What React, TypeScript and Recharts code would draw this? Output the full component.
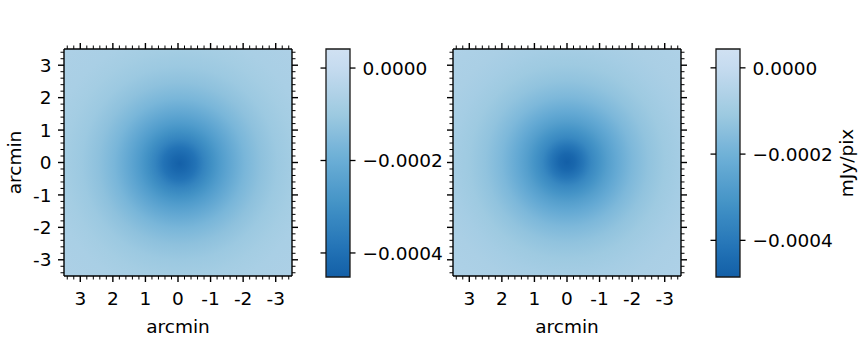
import React from 'react';
import { ScatterChart, XAxis, YAxis, ReferenceArea } from 'recharts';

// ---------- data ----------
const arcminTicks = [3, 2, 1, 0, -1, -2, -3];
const arcminTickLabels = ['3', '2', '1', '0', '-1', '-2', '-3'];
const arcminDomain: [number, number] = [-3.5, 3.5];
const minorTickCount = 35; // every 0.2 arcmin from -3.4 to 3.4

// radial profile of each map (radius in arcmin -> mJy/pix)
const profileRadius = [0, 0.25, 0.5, 0.75, 1, 1.25, 1.5, 2, 2.5, 3, 3.5, 4, 5];
const leftProfile = [-0.000448, -0.000425, -0.00039, -0.00034, -0.0003, -0.000262, -0.00023, -0.00017, -0.00013, -0.000102, -0.000083, -0.00007, -0.00006];
const rightProfile = [-0.000485, -0.00046, -0.00041, -0.00035, -0.00031, -0.00027, -0.000235, -0.000174, -0.000133, -0.000105, -0.000086, -0.000073, -0.000062];
const leftCenter = [-0.05, -0.03];
const rightCenter = [0.0, 0.02];

const leftColorbarDomain: [number, number] = [-0.000452, 0.0000412];
const rightColorbarDomain: [number, number] = [-0.000485, 0.0000437];
const colorbarTicks = [0, -0.0002, -0.0004];
const colorbarTickLabels = ['0.0000', '\u22120.0002', '\u22120.0004'];

// ---------- colormap ----------
const BLUES = ['#f7fbff', '#deebf7', '#c6dbef', '#9ecae1', '#6baed6', '#4292c6', '#2171b5', '#08519c', '#08306b'];
const CMAP_LO = 0.2;
const CMAP_HI = 0.82;

function hexToRgb(h: string) {
  const n = parseInt(h.slice(1), 16);
  return [(n >> 16) & 255, (n >> 8) & 255, n & 255];
}
function blues(t: number) {
  const c = Math.max(0, Math.min(1, t)) * (BLUES.length - 1);
  const i = Math.min(BLUES.length - 2, Math.floor(c));
  const f = c - i;
  const a = hexToRgb(BLUES[i]);
  const b = hexToRgb(BLUES[i + 1]);
  const m = a.map((v, k) => Math.round(v + (b[k] - v) * f));
  return `rgb(${m[0]},${m[1]},${m[2]})`;
}
function valueToColor(v: number, domain: [number, number]) {
  const frac = (domain[1] - v) / (domain[1] - domain[0]);
  return blues(CMAP_LO + frac * (CMAP_HI - CMAP_LO));
}

const allArcTicks = Array.from({ length: minorTickCount }, (_, i) => Math.round((-3.4 + i * 0.2) * 10) / 10);

const FONT = '"DejaVu Sans", Verdana, sans-serif';
const FS = 18.5;
const MAJOR = 6;
const MINOR = 3.5;

const arcTick = (side: string, withLabels: boolean) => (props: any) => {
  const { x, y, payload } = props;
  const v = Number(payload.value);
  const idx = arcminTicks.findIndex((t) => Math.abs(t - v) < 1e-6);
  const major = idx >= 0;
  const len = major ? MAJOR : MINOR;
  const sw = major ? 1.4 : 1.0;
  let x2 = x;
  let y2 = y;
  if (side === 'bottom') y2 = y + len;
  else if (side === 'top') y2 = y - len;
  else if (side === 'left') x2 = x - len;
  else x2 = x + len;
  return (
    <g>
      <line x1={x} y1={y} x2={x2} y2={y2} stroke="#000" strokeWidth={sw} />
      {withLabels && major && side === 'bottom' && (
        <text x={x} y={y + 29} textAnchor="middle" fontFamily={FONT} fontSize={FS} fill="#000">
          {arcminTickLabels[idx]}
        </text>
      )}
      {withLabels && major && side === 'left' && (
        <text x={x - 12.5} y={y + 6.7} textAnchor="end" fontFamily={FONT} fontSize={FS} fill="#000">
          {arcminTickLabels[idx]}
        </text>
      )}
    </g>
  );
};

const cbTick = (side: string, withLabels: boolean) => (props: any) => {
  const { x, y, payload } = props;
  const v = Number(payload.value);
  const idx = colorbarTicks.findIndex((t) => Math.abs(t - v) < 1e-12);
  const len = 5.5;
  const x2 = side === 'left' ? x - len : x + len;
  return (
    <g>
      <line x1={x} y1={y} x2={x2} y2={y} stroke="#000" strokeWidth={1.3} />
      {withLabels && idx >= 0 && (
        <text x={x + 12.5} y={y + 6.7} textAnchor="start" fontFamily={FONT} fontSize={FS} fill="#000">
          {colorbarTickLabels[idx]}
        </text>
      )}
    </g>
  );
};

const frame = { stroke: '#000', strokeWidth: 1.4 };

function HeatPanel({ left, gradId, showYLabels }: { left: number; gradId: string; showYLabels: boolean }) {
  return (
    <div style={{ position: 'absolute', left, top: 0 }}>
      <ScatterChart width={300} height={347} margin={{ top: 40, right: 0, bottom: 41, left: 0 }}>
        <ReferenceArea
          xAxisId="b"
          yAxisId="l"
          x1={arcminDomain[0]}
          x2={arcminDomain[1]}
          y1={arcminDomain[0]}
          y2={arcminDomain[1]}
          fill={`url(#${gradId})`}
          fillOpacity={1}
          stroke="none"
        />
        <XAxis
          xAxisId="b"
          type="number"
          dataKey="x"
          orientation="bottom"
          height={30}
          domain={arcminDomain}
          allowDataOverflow
          reversed
          ticks={allArcTicks}
          interval={0}
          tickLine={false}
          tickSize={0}
          tickMargin={0}
          axisLine={frame}
          tick={arcTick('bottom', true)}
          label={{
            content: (p: any) => {
              const vb = p.viewBox;
              return (
                <text x={vb.x + vb.width / 2} y={vb.y + 57} textAnchor="middle" fontFamily={FONT} fontSize={FS} fill="#000">
                  arcmin
                </text>
              );
            },
          }}
        />
        <XAxis
          xAxisId="t"
          type="number"
          dataKey="x"
          orientation="top"
          height={9}
          domain={arcminDomain}
          allowDataOverflow
          reversed
          ticks={allArcTicks}
          interval={0}
          tickLine={false}
          tickSize={0}
          tickMargin={0}
          axisLine={frame}
          tick={arcTick('top', false)}
        />
        <YAxis
          yAxisId="l"
          type="number"
          dataKey="y"
          orientation="left"
          width={64}
          domain={arcminDomain}
          allowDataOverflow
          ticks={allArcTicks}
          interval={0}
          tickLine={false}
          tickSize={0}
          tickMargin={0}
          axisLine={frame}
          tick={arcTick('left', showYLabels)}
          label={
            showYLabels
              ? {
                  content: (p: any) => {
                    const vb = p.viewBox;
                    const cx = vb.x + 21;
                    const cy = vb.y + vb.height / 2;
                    return (
                      <text x={cx} y={cy} transform={`rotate(-90, ${cx}, ${cy})`} textAnchor="middle" fontFamily={FONT} fontSize={FS} fill="#000">
                        arcmin
                      </text>
                    );
                  },
                }
              : undefined
          }
        />
        <YAxis
          yAxisId="r"
          type="number"
          dataKey="y"
          orientation="right"
          width={8}
          domain={arcminDomain}
          allowDataOverflow
          ticks={allArcTicks}
          interval={0}
          tickLine={false}
          tickSize={0}
          tickMargin={0}
          axisLine={frame}
          tick={arcTick('right', false)}
        />
      </ScatterChart>
    </div>
  );
}

function Colorbar({ left, width, domain, gradId, unitLabel }: { left: number; width: number; domain: [number, number]; gradId: string; unitLabel?: string }) {
  const rightW = width - 26 - 24;
  return (
    <div style={{ position: 'absolute', left, top: 0 }}>
      <ScatterChart width={width} height={347} margin={{ top: 49, right: 0, bottom: 70, left: 0 }}>
        <ReferenceArea
          xAxisId="cb"
          yAxisId="cbl"
          x1={0}
          x2={1}
          y1={domain[0]}
          y2={domain[1]}
          fill={`url(#${gradId})`}
          fillOpacity={1}
          stroke="#1a1a1a"
          strokeWidth={1.3}
          ifOverflow="visible"
        />
        <XAxis
          xAxisId="cb"
          type="number"
          dataKey="x"
          domain={[0, 1]}
          allowDataOverflow
          height={0}
          tick={false}
          tickLine={false}
          axisLine={false}
        />
        <YAxis
          yAxisId="cbl"
          type="number"
          dataKey="v"
          orientation="left"
          width={26}
          domain={domain}
          allowDataOverflow
          ticks={colorbarTicks}
          interval={0}
          axisLine={false}
          tickLine={false}
          tickSize={0}
          tickMargin={0}
          tick={cbTick('left', false)}
        />
        <YAxis
          yAxisId="cbr"
          type="number"
          dataKey="v"
          orientation="right"
          width={rightW}
          domain={domain}
          allowDataOverflow
          ticks={colorbarTicks}
          interval={0}
          axisLine={false}
          tickLine={false}
          tickSize={0}
          tickMargin={0}
          tick={cbTick('right', true)}
          label={
            unitLabel
              ? {
                  content: (p: any) => {
                    const vb = p.viewBox;
                    const cx = vb.x + 113;
                    const cy = vb.y + vb.height / 2;
                    return (
                      <text x={cx} y={cy} transform={`rotate(-90, ${cx}, ${cy})`} textAnchor="middle" fontFamily={FONT} fontSize={FS} fill="#000">
                        {unitLabel}
                      </text>
                    );
                  },
                }
              : undefined
          }
        />
      </ScatterChart>
    </div>
  );
}

function radialStops(profile: number[], domain: [number, number]) {
  const rMax = profileRadius[profileRadius.length - 1];
  return profileRadius.map((r, i) => <stop key={i} offset={r / rMax} stopColor={valueToColor(profile[i], domain)} />);
}

function barStops() {
  const n = 25;
  return Array.from({ length: n }, (_, i) => {
    const o = i / (n - 1);
    return <stop key={i} offset={o} stopColor={blues(CMAP_LO + o * (CMAP_HI - CMAP_LO))} />;
  });
}

function center(c: number[]) {
  const span = arcminDomain[1] - arcminDomain[0];
  return { cx: (arcminDomain[1] - c[0]) / span, cy: (arcminDomain[1] - c[1]) / span };
}

export default function App() {
  const rMax = profileRadius[profileRadius.length - 1];
  const span = arcminDomain[1] - arcminDomain[0];
  const cl = center(leftCenter);
  const cr = center(rightCenter);
  return (
    <div style={{ position: 'absolute', left: 0, top: 0, width: 868, height: 347, background: '#fff', overflow: 'hidden' }}>
      <svg width={0} height={0} style={{ position: 'absolute' }}>
        <defs>
          <radialGradient id="heatL" cx={cl.cx} cy={cl.cy} r={rMax / span}>
            {radialStops(leftProfile, leftColorbarDomain)}
          </radialGradient>
          <radialGradient id="heatR" cx={cr.cx} cy={cr.cy} r={rMax / span}>
            {radialStops(rightProfile, rightColorbarDomain)}
          </radialGradient>
          <linearGradient id="cbGrad" x1={0} y1={0} x2={0} y2={1}>
            {barStops()}
          </linearGradient>
        </defs>
      </svg>
      <Colorbar left={300} width={150} domain={leftColorbarDomain} gradId="cbGrad" />
      <Colorbar left={690} width={178} domain={rightColorbarDomain} gradId="cbGrad" unitLabel="mJy/pix" />
      <HeatPanel left={0} gradId="heatL" showYLabels={true} />
      <HeatPanel left={389} gradId="heatR" showYLabels={false} />
    </div>
  );
}
